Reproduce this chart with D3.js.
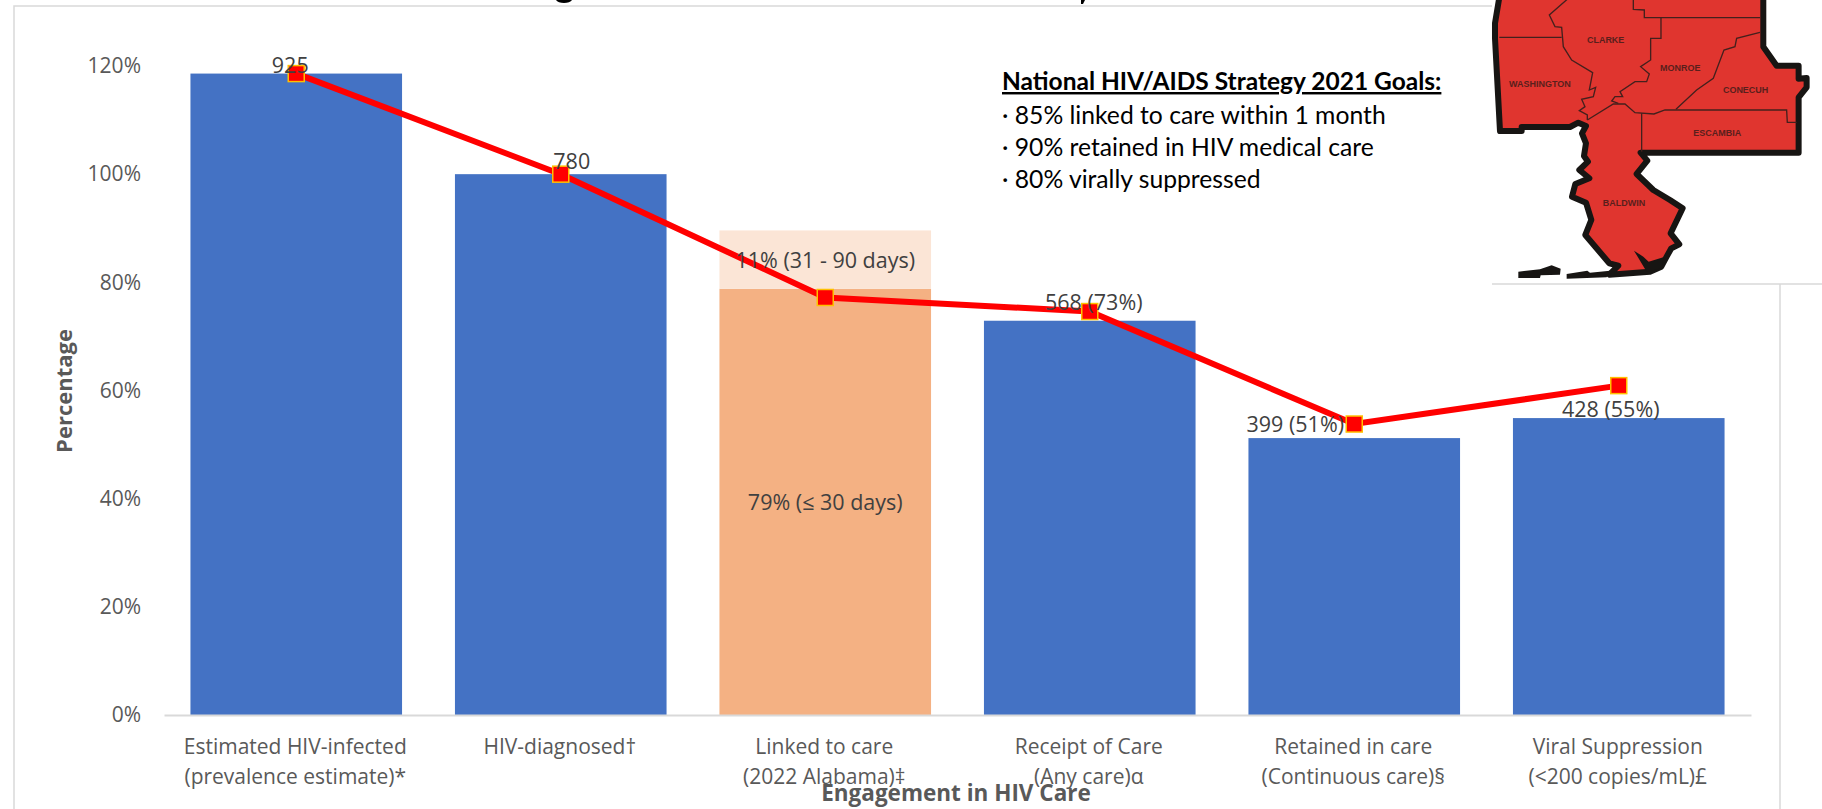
<!DOCTYPE html>
<html>
<head>
<meta charset="utf-8">
<script src="https://cdn.jsdelivr.net/npm/d3@7"></script>
<style>
  html, body { margin: 0; padding: 0; background: #fff; overflow: hidden; }
  svg { display: block; }
  text { font-family: "Open Sans", sans-serif; }
</style>
</head>
<body>
<svg id="chart" width="1822" height="809"></svg>
<script>
const categories = [
  ['Estimated HIV-infected', '(prevalence estimate)*'],
  ['HIV-diagnosed†'],
  ['Linked to care', '(2022 Alabama)‡'],
  ['Receipt of Care', '(Any care)α'],
  ['Retained in care', '(Continuous care)§'],
  ['Viral Suppression', '(<200 copies/mL)£']
]
const barValues = [118.6, 100, 78.8, 72.9, 51.2, 54.9]
const extraValues = [0, 0, 10.8, 0, 0, 0]
const lineValues = [118.6, 100, 77.2, 74.6, 53.8, 60.9]
const barLabels = ['925', '780', '11% (31 - 90 days)', '568 (73%)', '399 (51%)', '428 (55%)']
const yTicks = [0, 20, 40, 60, 80, 100, 120]
const innerLabel = '79% (≤ 30 days)'
const goalsTitle = 'National HIV/AIDS Strategy 2021 Goals:'
const goals = ['· 85% linked to care within 1 month', '· 90% retained in HIV medical care', '· 80% virally suppressed']

// map is a pasted picture in the original, traced here in 3x pixels of its crop
const mapOutline = [[150,-20],[135,70],[135,115],[150,393],[215,393],[215,381],[360,381],[385,368],[408,378],[396,400],[408,430],[402,468],[414,485],[388,510],[418,535],[376,552],[366,590],[408,608],[424,660],[406,705],[478,790],[505,797],[478,824],[600,815],[634,800],[650,770],[664,745],[688,733],[662,700],[698,625],[660,600],[610,570],[560,522],[592,482],[572,458],[1046,458],[1046,292],[1070,262],[1070,234],[1046,236],[1046,197],[980,197],[940,140],[940,-20]]
const mapBays = [[[552,752],[580,770],[596,785],[640,772],[636,805],[590,815]]]
const mapIslands = [
  [[205,815],[270,808],[305,796],[332,806],[330,824],[272,826],[270,834],[205,834]],
  [[350,822],[412,812],[420,818],[480,812],[470,832],[350,836]]
]
const mapBorders = [
  [[148,112],[335,112]],
  [[355,-5],[298,45],[315,80],[335,82],[340,140],[365,180],[428,218],[418,270],[437,262],[430,290],[395,298],[405,320],[388,332],[412,345],[412,360]],
  [[412,360],[490,312],[525,312],[555,338],[612,342],[645,330],[1010,330],[1012,367],[1040,367]],
  [[575,340],[575,455]],
  [[550,-5],[550,28],[583,30],[583,53],[930,53]],
  [[633,53],[633,115],[602,115],[602,180],[572,200],[598,222],[590,245],[555,245],[510,275],[518,290],[495,290],[485,303],[505,310]],
  [[930,97],[860,115],[855,140],[822,150],[790,235],[740,270],[678,328]]
]
const mapNames = [
  ['CLARKE', 467, 118], ['MONROE', 691, 203], ['CONECUH', 887, 268],
  ['WASHINGTON', 270, 250], ['ESCAMBIA', 802, 398], ['BALDWIN', 522, 608]
]

const svg = d3.select('#chart')
const x = d3.scaleBand().domain(d3.range(categories.length)).range([164, 1751]).paddingInner(0.2).paddingOuter(0.1)
const y = d3.scaleLinear().domain([0, 120]).range([715, 66])
const mid = i => x(i) + x.bandwidth() / 2

// chart frame
svg.append('path')
  .attr('d', 'M14,809V6H1780V809')
  .attr('fill', 'none')
  .attr('stroke', '#d9d9d9')
  .attr('stroke-width', 1.5)

// the title of the original is cut off by the top edge, only a few descenders show
const titleBits = svg.append('g').attr('fill', '#000')
titleBits.append('path').attr('d', 'M556,0 C558,4 570,4 572,0Z')
titleBits.append('path').attr('d', 'M1081,0h4l-2,4h-2Z')

// bars
svg.append('g').selectAll('rect')
  .data(barValues)
  .join('rect')
  .attr('x', (d, i) => x(i))
  .attr('y', d => y(d))
  .attr('width', x.bandwidth())
  .attr('height', d => y(0) - y(d))
  .attr('fill', (d, i) => i === 2 ? '#f4b183' : '#4472c4')

svg.append('g').selectAll('rect')
  .data(extraValues)
  .join('rect')
  .attr('x', (d, i) => x(i))
  .attr('y', (d, i) => y(barValues[i] + d))
  .attr('width', x.bandwidth())
  .attr('height', d => y(0) - y(d))
  .attr('fill', '#fbe5d6')

// axes
const yAxis = svg.append('g')
  .attr('transform', 'translate(164,0)')
  .call(d3.axisLeft(y).tickValues(yTicks).tickFormat(d => d + '%').tickSize(0).tickPadding(23))
yAxis.select('.domain').remove()
yAxis.selectAll('text')
  .attr('font-family', '"Open Sans", sans-serif')
  .attr('font-size', 21)
  .attr('fill', '#595959')

const xAxis = svg.append('g')
  .attr('transform', 'translate(0,715)')
  .call(d3.axisBottom(x).tickSize(0).tickFormat(''))
xAxis.select('.domain').attr('stroke', '#d9d9d9').attr('stroke-width', 2)

const catLabels = svg.append('g')
  .attr('font-size', 21)
  .attr('fill', '#595959')
  .attr('text-anchor', 'middle')
categories.forEach((lines, i) => {
  lines.forEach((line, j) => {
    catLabels.append('text')
      .attr('x', mid(i) - 1)
      .attr('y', 754 + j * 30)
      .text(line)
  })
})

svg.append('text')
  .attr('x', 956)
  .attr('y', 801)
  .attr('text-anchor', 'middle')
  .attr('font-size', 22.5)
  .attr('font-weight', 700)
  .attr('fill', '#595959')
  .text('Engagement in HIV Care')

svg.append('text')
  .attr('transform', 'translate(72,391) rotate(-90)')
  .attr('text-anchor', 'middle')
  .attr('font-size', 22)
  .attr('font-weight', 700)
  .attr('fill', '#595959')
  .text('Percentage')

// red line with square markers
const line = d3.line().x((d, i) => mid(i)).y(d => y(d))
svg.append('path')
  .attr('d', line(lineValues))
  .attr('fill', 'none')
  .attr('stroke', '#ff0000')
  .attr('stroke-width', 6)

svg.append('g').selectAll('rect')
  .data(lineValues)
  .join('rect')
  .attr('x', (d, i) => mid(i) - 8)
  .attr('y', d => y(d) - 8)
  .attr('width', 16)
  .attr('height', 16)
  .attr('fill', '#ff0000')
  .attr('stroke', '#ffc000')
  .attr('stroke-width', 1.5)

// data labels, offsets from the band centre and the top of each bar
const labelDx = [-6, 11, 0, 4, -59, -8]
const labelDy = [-1, -5, -20, -11, -6, -1]
const labelTop = barValues.map((d, i) => d + extraValues[i])
svg.append('g').selectAll('text')
  .data(barLabels)
  .join('text')
  .attr('x', (d, i) => mid(i) + labelDx[i])
  .attr('y', (d, i) => y(labelTop[i]) + labelDy[i] + (i === 2 ? 58 : 0))
  .attr('text-anchor', 'middle')
  .attr('font-size', 21.5)
  .attr('fill', '#404040')
  .text(d => d)

svg.append('text')
  .attr('x', mid(2))
  .attr('y', 510)
  .attr('text-anchor', 'middle')
  .attr('font-size', 21.5)
  .attr('fill', '#404040')
  .text(innerLabel)

// goals box
const goalBox = svg.append('g').attr('fill', '#000')
goalBox.append('text')
  .attr('x', 1002)
  .attr('y', 90)
  .attr('font-size', 24.5)
  .attr('font-weight', 700)
  .style('font-family', 'Lato, sans-serif')
  .attr('text-decoration', 'underline')
  .text(goalsTitle)
goals.forEach((g, i) => {
  goalBox.append('text')
    .attr('x', 1002)
    .attr('y', 124 + i * 32)
    .attr('font-size', 24.7)
    .style('font-family', 'Lato, sans-serif')
    .text(g)
})

// map picture
svg.append('rect').attr('x', 1492).attr('y', 0).attr('width', 330).attr('height', 284).attr('fill', '#fff')
svg.append('path').attr('d', 'M1492,284H1822').attr('stroke', '#d9d9d9').attr('stroke-width', 1.5).attr('fill', 'none')

const map = svg.append('g').attr('transform', 'translate(1450,0) scale(0.3333)')
const poly = d3.line().curve(d3.curveLinear)
map.append('path')
  .attr('d', poly(mapOutline) + 'Z')
  .attr('fill', '#e0352f')
  .attr('stroke', '#171513')
  .attr('stroke-width', 18)
  .attr('stroke-linejoin', 'round')
map.selectAll('.bay').data(mapBays).join('path')
  .attr('class', 'bay')
  .attr('d', d => poly(d) + 'Z')
  .attr('fill', '#171513')
map.selectAll('.island').data(mapIslands).join('path')
  .attr('class', 'island')
  .attr('d', d => poly(d) + 'Z')
  .attr('fill', '#171513')
map.selectAll('.border').data(mapBorders).join('path')
  .attr('class', 'border')
  .attr('d', d => poly(d))
  .attr('fill', 'none')
  .attr('stroke', '#44201d')
  .attr('stroke-width', 4)
map.selectAll('.name').data(mapNames).join('text')
  .attr('class', 'name')
  .attr('x', d => d[1])
  .attr('y', d => d[2] + 10)
  .attr('text-anchor', 'middle')
  .attr('font-size', 27)
  .attr('font-weight', 700)
  .style('font-family', '"Liberation Sans", sans-serif')
  .attr('fill', '#5a1f1c')
  .text(d => d[0])
</script>
</body>
</html>
